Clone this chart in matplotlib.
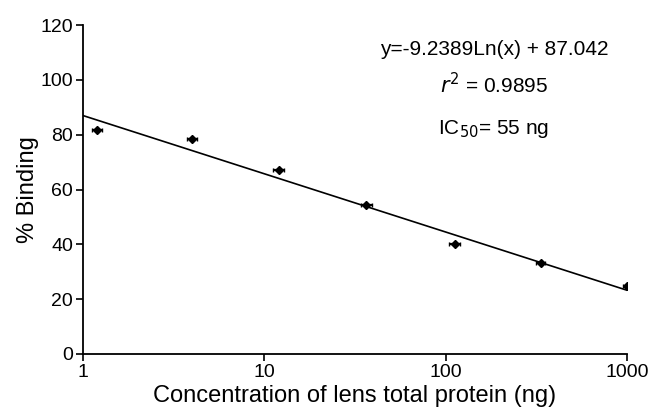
import numpy as np
import matplotlib.pyplot as plt

# data
conc = [1.2, 4.0, 12.0, 36.5, 112.0, 333.0, 1000.0]
binding = [81.8, 78.3, 67.3, 54.3, 40.3, 33.1, 24.8]
conc_err = [0.07, 0.25, 0.8, 2.5, 8.0, 20.0, 50.0]

slope = -9.2389
intercept = 87.042

plt.rcParams['font.family'] = ['Liberation Sans', 'DejaVu Sans']

fig = plt.figure(figsize=(6.52, 4.13), dpi=100)
ax = fig.add_axes([0.127, 0.143, 0.835, 0.796])

# trendline from the printed fit
xs = np.logspace(0, 3, 200)
ax.plot(xs, slope * np.log(xs) + intercept, color='black', lw=1.2)

ax.errorbar(conc, binding, xerr=conc_err, fmt='D', color='black', ms=4.5,
            elinewidth=1.6, capsize=1.5, capthick=1.0)

ax.set_xscale('log')
ax.set_xlim(1, 1000)
ax.set_ylim(0, 120)
ax.set_yticks(range(0, 121, 20))
ax.set_xticks([1, 10, 100, 1000])
ax.set_xticklabels(['1', '10', '100', '1000'])
ax.minorticks_off()

for s in ['top', 'right']:
    ax.spines[s].set_visible(False)
for s in ['left', 'bottom']:
    ax.spines[s].set_linewidth(1.3)
ax.tick_params(axis='both', direction='out', length=5, width=1.2,
               labelsize=14, pad=2, colors='black')

ax.set_ylabel('% Binding', fontsize=17, labelpad=1)
ax.set_xlabel('Concentration of lens total protein (ng)', fontsize=17,
              labelpad=3)

ax.text(0.755, 0.925, 'y=-9.2389Ln(x) + 87.042', transform=ax.transAxes,
        ha='center', va='center', fontsize=15)
ax.text(0.755, 0.82, '$r^2$ = 0.9895', transform=ax.transAxes,
        ha='center', va='center', fontsize=15)
ax.text(0.755, 0.685, 'IC$_{50}$= 55 ng', transform=ax.transAxes,
        ha='center', va='center', fontsize=15)

fig.savefig('out.png', dpi=100)
